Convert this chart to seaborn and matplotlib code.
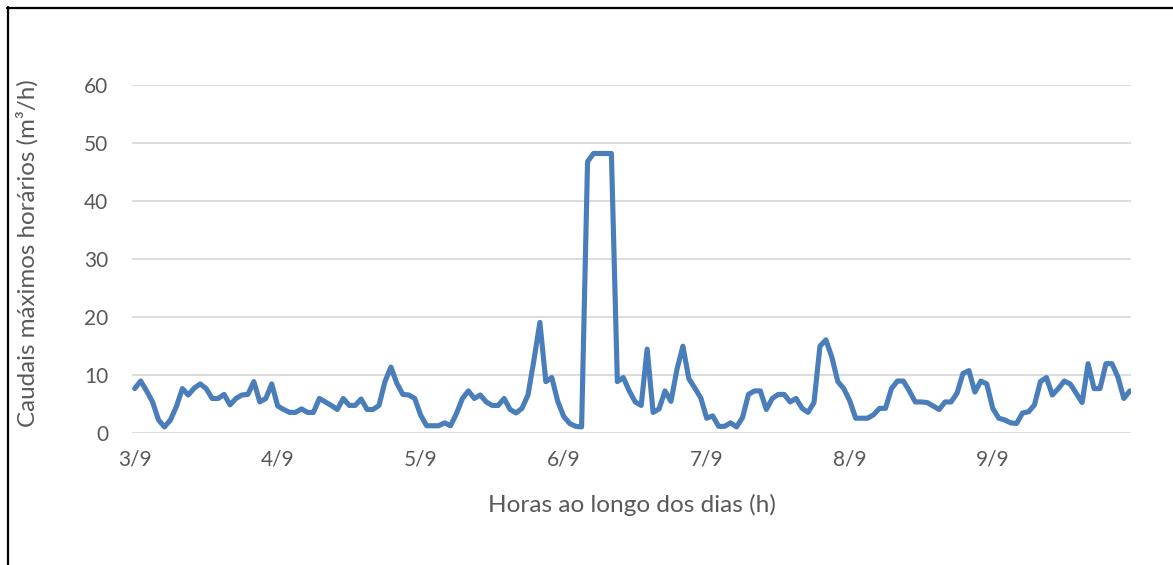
import numpy as np
import pandas as pd
import matplotlib
matplotlib.use("Agg")
import matplotlib.pyplot as plt
from matplotlib.lines import Line2D
import seaborn as sns

# Hourly maximum flow, 3/9 to 9/9 (168 hourly readings)
caudal = [
    7.7, 9.0, 7.3, 5.4, 2.3, 1.1, 2.3, 4.6, 7.7, 6.6, 7.8, 8.5,
    7.7, 6.0, 6.0, 6.7, 4.9, 6.0, 6.6, 6.7, 8.9, 5.4, 6.0, 8.5,
    4.7, 4.1, 3.6, 3.6, 4.2, 3.6, 3.6, 6.0, 5.4, 4.8, 4.1, 6.0,
    4.8, 4.8, 5.9, 4.1, 4.1, 4.8, 8.9, 11.4, 8.6, 6.7, 6.6, 6.0,
    3.1, 1.3, 1.3, 1.3, 1.8, 1.3, 3.4, 6.0, 7.3, 6.0, 6.6, 5.4,
    4.8, 4.8, 6.0, 4.1, 3.5, 4.3, 6.6, 12.6, 19.1, 8.9, 9.6, 5.5,
    2.9, 1.7, 1.2, 1.1, 46.8, 48.2, 48.2, 48.2, 48.2, 8.9, 9.6, 7.3,
    5.4, 4.8, 14.5, 3.6, 4.2, 7.3, 5.5, 11.0, 15.0, 9.4, 7.8, 6.1,
    2.6, 3.0, 1.2, 1.2, 1.8, 1.1, 2.7, 6.7, 7.3, 7.3, 4.1, 6.0,
    6.7, 6.7, 5.4, 6.0, 4.3, 3.6, 5.3, 15.0, 16.1, 13.1, 8.9, 7.7,
    5.6, 2.6, 2.6, 2.6, 3.2, 4.3, 4.3, 7.7, 9.0, 9.0, 7.3, 5.4,
    5.4, 5.3, 4.7, 4.1, 5.4, 5.4, 6.9, 10.3, 10.8, 7.1, 9.0, 8.5,
    4.3, 2.6, 2.3, 1.8, 1.7, 3.5, 3.7, 4.9, 8.9, 9.6, 6.6, 7.7,
    9.0, 8.5, 6.9, 5.3, 12.0, 7.7, 7.7, 12.0, 12.0, 9.7, 6.0, 7.3,
]
dias = ["3/9", "4/9", "5/9", "6/9", "7/9", "8/9", "9/9"]
y_ticks = [0, 10, 20, 30, 40, 50, 60]

df = pd.DataFrame({"hora": np.arange(len(caudal)), "caudal": caudal})

sns.set_theme(style="white")
plt.rcParams["font.family"] = ["Lato", "DejaVu Sans"]

W, H = 1173, 565
fig = plt.figure(figsize=(W / 100, H / 100), dpi=100)
ax = fig.add_axes([132 / W, 1 - 433.3 / H, (1131 - 132) / W, (433.3 - 85) / H])

sns.lineplot(data=df, x="hora", y="caudal", ax=ax, color="#4a7ebb",
             linewidth=3.7, solid_joinstyle="round", solid_capstyle="round")

ax.set_xlim(-0.45, len(caudal) - 0.8)
ax.set_ylim(0, 60)
ax.set_xticks(np.arange(len(dias)) * 24)
ax.set_xticklabels(dias)
ax.set_yticks(y_ticks)
ax.grid(axis="y", color="#d9d9d9", linewidth=1.3)
ax.set_axisbelow(True)
for s in ax.spines.values():
    s.set_visible(False)
ax.tick_params(axis="both", length=0, labelsize=15, labelcolor="#595959")
ax.tick_params(axis="y", pad=17)
ax.tick_params(axis="x", pad=12)

ax.set_xlabel("Horas ao longo dos dias (h)", fontsize=17.6, color="#595959")
ax.set_ylabel("Caudais máximos horários (m³/h)", fontsize=17.4, color="#595959")
ax.xaxis.set_label_coords(0.5, (433.3 - 505) / 348.3)
ax.xaxis.label.set_va("center")
ax.yaxis.set_label_coords((27 - 132) / 999, (433.3 - 253.5) / 348.3)
ax.yaxis.label.set_va("center")

# outer frame (top and left edges)
fig.add_artist(Line2D([7 / W, 1.0], [1 - 7.5 / H, 1 - 7.5 / H], color="black",
                      linewidth=1.6, transform=fig.transFigure))
fig.add_artist(Line2D([7.5 / W, 7.5 / W], [0.0, 1 - 7 / H], color="black",
                      linewidth=1.6, transform=fig.transFigure))

fig.savefig("out.png", dpi=100, facecolor="white")
